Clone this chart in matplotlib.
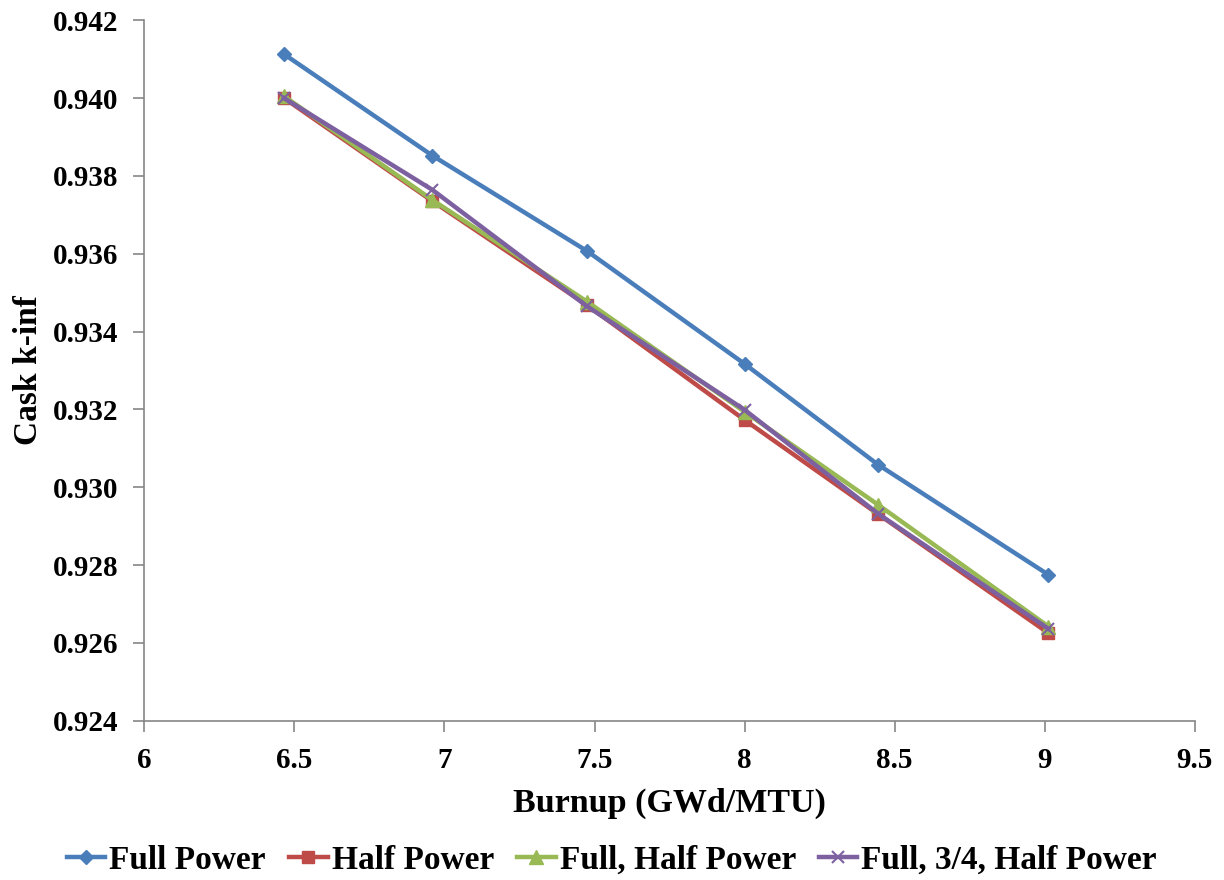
import matplotlib
matplotlib.use("Agg")
import matplotlib.pyplot as plt

# Burnup (GWd/MTU) and cask k-inf for each power history
burnup = [6.465, 6.96, 7.475, 8.0, 8.445, 9.013]
full_power = [0.94113, 0.93852, 0.93607, 0.93317, 0.93058, 0.92775]
half_power = [0.94000, 0.93735, 0.93468, 0.93173, 0.92931, 0.92625]
full_half_power = [0.94005, 0.93738, 0.93477, 0.93194, 0.92955, 0.92642]
full_34_half_power = [0.94000, 0.93764, 0.93465, 0.93199, 0.92932, 0.92636]

series_names = ["Full Power", "Half Power", "Full, Half Power", "Full, 3/4, Half Power"]
x_ticks = [6, 6.5, 7, 7.5, 8, 8.5, 9, 9.5]
x_tick_labels = ["6", "6.5", "7", "7.5", "8", "8.5", "9", "9.5"]
y_ticks = [0.924, 0.926, 0.928, 0.930, 0.932, 0.934, 0.936, 0.938, 0.940, 0.942]

plt.rcParams["font.family"] = ["Liberation Serif", "DejaVu Serif"]
plt.rcParams["font.weight"] = "bold"

fig = plt.figure(figsize=(12.24, 8.8), dpi=100)
ax = fig.add_axes([0.118, 0.181, 0.858, 0.796])

styles = [
    dict(color="#4A7EBB", marker="D", markersize=7),
    dict(color="#BE4B48", marker="s", markersize=9),
    dict(color="#98B954", marker="^", markersize=10),
    dict(color="#7D60A0", marker="x", markersize=9, markeredgewidth=1.5),
]
data = [full_power, half_power, full_half_power, full_34_half_power]
for name, ys, st in zip(series_names, data, styles):
    ax.plot(burnup, ys, linewidth=3.2, label=name, **st)

ax.set_xlim(6, 9.5)
ax.set_ylim(0.924, 0.942)
ax.set_xticks(x_ticks)
ax.set_xticklabels(x_tick_labels)
ax.set_yticks(y_ticks)
ax.set_yticklabels([f"{v:.3f}" for v in y_ticks])

for side in ("top", "right"):
    ax.spines[side].set_visible(False)
for side in ("left", "bottom"):
    ax.spines[side].set_color("#868686")
    ax.spines[side].set_linewidth(1.2)
ax.tick_params(direction="out", length=8, width=1.2, color="#868686",
               labelsize=21, pad=11)
for lbl in ax.get_xticklabels() + ax.get_yticklabels():
    lbl.set_fontweight("bold")

ax.set_xlabel("Burnup (GWd/MTU)", fontsize=24.5, fontweight="bold", labelpad=10)
ax.set_ylabel("Cask k-inf", fontsize=24, fontweight="bold", labelpad=6)

leg = fig.legend(loc="center", bbox_to_anchor=(0.5, 0.022), ncol=4, frameon=False,
                 prop={"size": 24, "weight": "bold"}, handlelength=1.15,
                 handletextpad=0.12, columnspacing=0.7)

fig.savefig("out.png", dpi=100)
